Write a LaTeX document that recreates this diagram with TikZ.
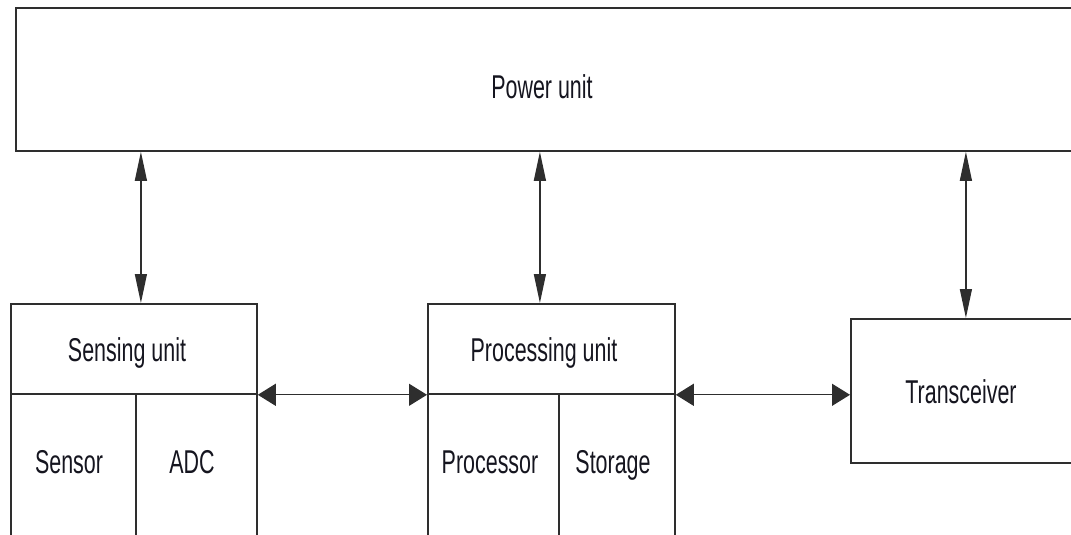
\documentclass[tikz,border=0pt]{standalone}
\usepackage{fontspec}
\setmainfont[FakeStretch=0.65]{Liberation Sans}
\usetikzlibrary{arrows.meta}
\definecolor{ln}{HTML}{2E2E2E}
\definecolor{tx}{HTML}{15151F}
\begin{document}
\begin{tikzpicture}[x=1pt,y=-1pt,
  box/.style={draw=ln,line width=1.8pt,rectangle,inner sep=0pt,anchor=north west},
  lbl/.style={anchor=base,inner sep=0pt,text=tx,font=\fontsize{33}{37}\selectfont},
  av/.style={draw=ln,line width=1.3pt,{Triangle[length=29pt,width=12pt]}-{Triangle[length=29pt,width=12pt]}},
  ah/.style={draw=ln,line width=1.3pt,{Triangle[length=18pt,width=22pt]}-{Triangle[length=18pt,width=22pt]}}]
\useasboundingbox (0,0) rectangle (1071,535);
\clip (0,0) rectangle (1071,535);
% boxes
\node[box,minimum width=1070pt,minimum height=143pt] (power) at (15,7) {};
\node[box,minimum width=246pt,minimum height=90pt] (sens) at (10,303) {};
\node[box,minimum width=125pt,minimum height=160pt] (sensor) at (10,393) {};
\node[box,minimum width=121pt,minimum height=160pt] (adc) at (135,393) {};
\node[box,minimum width=247pt,minimum height=90pt] (proc) at (427,303) {};
\node[box,minimum width=131pt,minimum height=160pt] (procr) at (427,393) {};
\node[box,minimum width=116pt,minimum height=160pt] (stor) at (558,393) {};
\node[box,minimum width=235pt,minimum height=144pt] (trx) at (850,318) {};
% labels
\node[lbl] (tpower) at (542,98) {Power unit};
\node[lbl] (tsens) at (127,361) {Sensing unit};
\node[lbl] (tsensor) at (69,473) {Sensor};
\node[lbl] (tadc) at (192,473) {ADC};
\node[lbl] (tproc) at (544,361) {Processing unit};
\node[lbl] (tprocr) at (490,473) {Processor};
\node[lbl] (tstor) at (613,473) {Storage};
\node[lbl] (ttrx) at (961,403) {Transceiver};
% connectors
\draw[av] ([xshift=7pt]sens.north) -- ([xshift=7pt]sens.north |- power.south);
\draw[av] ([xshift=-11.5pt]proc.north) -- ([xshift=-11.5pt]proc.north |- power.south);
\draw[av] ([xshift=-2.5pt]trx.north) -- ([xshift=-2.5pt]trx.north |- power.south);
\draw[ah] (sens.south east) -- (proc.south west);
\draw[ah] (proc.south east) -- (proc.south east -| trx.west);
\end{tikzpicture}
\end{document}
